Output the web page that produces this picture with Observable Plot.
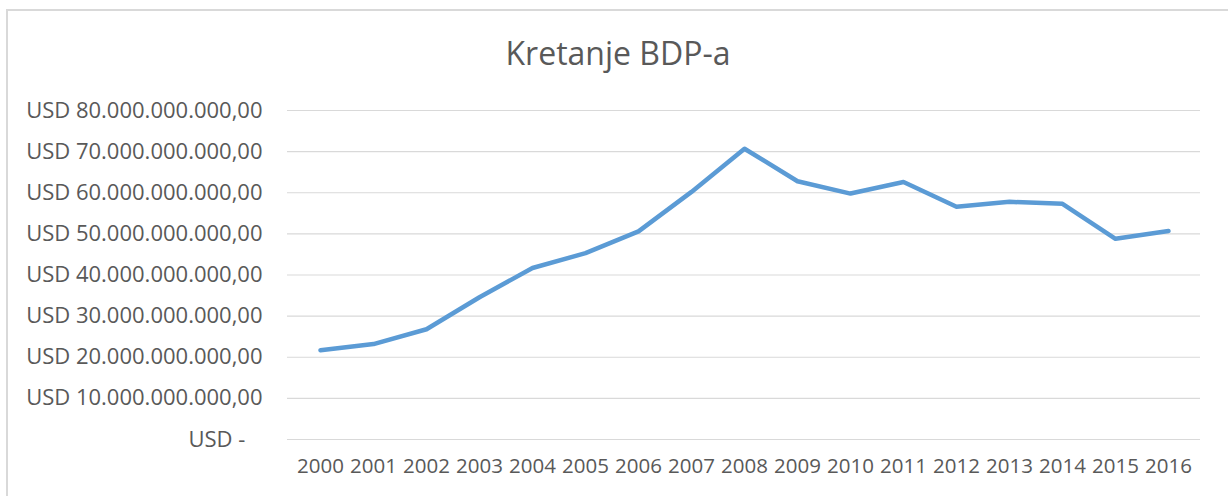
<!DOCTYPE html>
<html>
<head>
<meta charset="utf-8">
<script src="https://cdn.jsdelivr.net/npm/d3@7"></script>
<script src="https://cdn.jsdelivr.net/npm/@observablehq/plot@0.6"></script>
<style>
  html, body { margin: 0; padding: 0; background: #fff; }
  #wrap { position: relative; width: 1228px; height: 496px; overflow: hidden; background: #fff; }
  #frame { position: absolute; left: 6px; top: 9px; width: 1300px; height: 600px; border-left: 2px solid #d9d9d9; border-top: 2px solid #d9d9d9; box-sizing: border-box; }
  #title { position: absolute; left: 0; width: 1228px; top: 31px; text-align: center; font-family: "Open Sans", sans-serif; font-size: 32px; color: #595959; padding-left: 8px; box-sizing: border-box; }
  #chart { position: absolute; left: 0; top: 0; }
</style>
</head>
<body>
<div id="wrap">
  <div id="frame"></div>
  <div id="title">Kretanje BDP-a</div>
  <div id="chart"></div>
</div>
<script>
const years = ["2000","2001","2002","2003","2004","2005","2006","2007","2008","2009","2010","2011","2012","2013","2014","2015","2016"];
const gdp = [21.7e9, 23.2e9, 26.8e9, 34.6e9, 41.7e9, 45.3e9, 50.6e9, 60.2e9, 70.7e9, 62.8e9, 59.8e9, 62.6e9, 56.6e9, 57.8e9, 57.3e9, 48.8e9, 50.7e9];
const yTicks = [0, 10e9, 20e9, 30e9, 40e9, 50e9, 60e9, 70e9, 80e9];

const data = years.map((y, i) => ({year: y, value: gdp[i]}));

function fmt(v) {
  if (v === 0) return "USD -\u00a0\u00a0\u00a0";
  const s = d3.format(",")(v).replace(/,/g, ".");
  return "USD " + s + ",00";
}

const chart = Plot.plot({
  width: 1228,
  height: 496,
  marginTop: 110,
  marginBottom: 57,
  marginLeft: 287,
  marginRight: 28,
  style: { fontFamily: "Open Sans, sans-serif", fontSize: "20px", color: "#595959", background: "transparent" },
  x: { type: "point", domain: years, padding: 0.5, label: null },
  y: { domain: [0, 80e9], label: null },
  marks: [
    Plot.ruleY(yTicks, { stroke: "#d9d9d9", strokeWidth: 1.2, strokeOpacity: 1 }),
    Plot.axisY({ ticks: yTicks, tickFormat: fmt, tickSize: 0, tickPadding: 25, label: null, fill: "#595959", fontSize: 22 }),
    Plot.axisX({ tickSize: 0, tickPadding: 19, label: null, fill: "#595959", fontSize: 20.5 }),
    Plot.line(data, { x: "year", y: "value", stroke: "#5b9bd5", strokeWidth: 4.5, strokeLinejoin: "round", strokeLinecap: "round" })
  ]
});
document.getElementById("chart").appendChild(chart);
</script>
</body>
</html>
